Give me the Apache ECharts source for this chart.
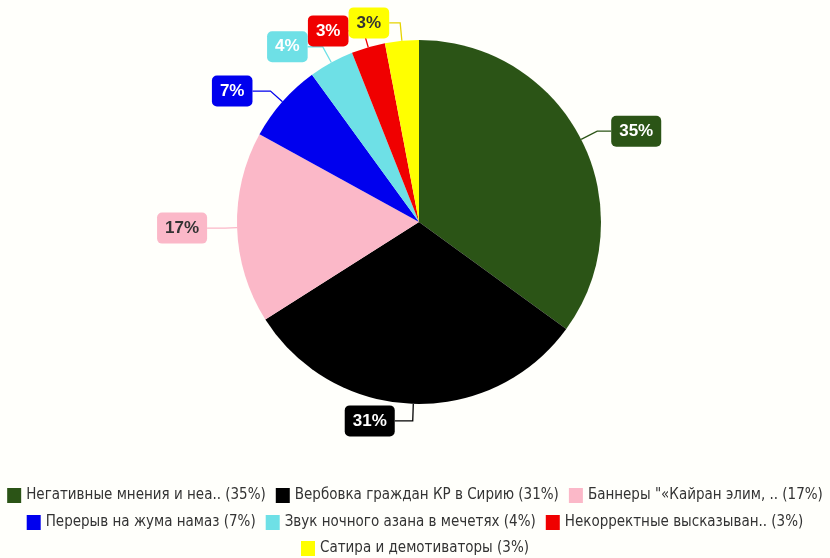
<!DOCTYPE html>
<html><head><meta charset="utf-8">
<script src="https://cdn.jsdelivr.net/npm/echarts@6/dist/echarts.min.js"></script>
<style>html,body{margin:0;padding:0;background:#fffffb;}#c{width:830px;height:558px;}</style>
</head><body><div id="c"></div>
<script>
const categories = ['Негативные мнения и неа..', 'Вербовка граждан КР в Сирию', 'Баннеры "«Кайран элим, ..', 'Перерыв на жума намаз', 'Звук ночного азана в мечетях', 'Некорректные высказыван..', 'Сатира и демотиваторы'];
const values = [35, 31, 17, 7, 4, 3, 3];
const colors = ['#2b5416', '#000000', '#fbb8c8', '#0000ee', '#6ee0e6', '#f00000', '#ffff00'];
const labelText = ['#ffffff', '#ffffff', '#333333', '#ffffff', '#ffffff', '#ffffff', '#333333'];
const lineLen = [18, 17, 12, 16, 18, 17, 18];
const lineLen2 = [14, 18, 18, 18, 15, 15, 11];
const legendRows = [[0, 1, 2], [3, 4, 5], [6]];
const legendTops = [488, 515, 541];
const font = '"Liberation Sans Narrow","DejaVu Sans Condensed","Arial Narrow",sans-serif';
const labelFont = '"Liberation Sans",Arial,sans-serif';
const total = values.reduce((a, b) => a + b, 0);
const data = categories.map((n, i) => ({
  name: n, value: values[i],
  itemStyle: { color: colors[i] },
  label: { backgroundColor: colors[i], color: labelText[i] },
  labelLine: { length: lineLen[i], length2: lineLen2[i], lineStyle: { color: colors[i] === '#ffff00' ? '#e6d400' : colors[i] } }
}));
const chart = echarts.init(document.getElementById('c'));
chart.setOption({
  backgroundColor: '#fffffb',
  animation: false,
  legend: legendRows.map((row, r) => ({
    top: legendTops[r], left: 'center', padding: 0,
    itemWidth: 14, itemHeight: 15, itemGap: 10,
    icon: 'rect',
    textStyle: { fontFamily: font, fontSize: 15, color: '#333' },
    formatter: name => {
      const i = categories.indexOf(name);
      return name + ' (' + Math.round(values[i] / total * 100) + '%)';
    },
    data: row.map(i => categories[i])
  })),
  series: [{
    type: 'pie',
    center: [419, 222],
    radius: [0, 182],
    startAngle: 90,
    clockwise: true,
    avoidLabelOverlap: false,
    labelLayout: { hideOverlap: false, moveOverlap: null },
    data: data,
    label: {
      position: 'outside',
      formatter: p => Math.round(p.percent) + '%',
      fontFamily: labelFont, fontSize: 17, fontWeight: 'bold',
      padding: [7, 8],
      borderRadius: 5,
      distanceToLabelLine: 0
    },
    labelLine: { show: true, lineStyle: { width: 1.3 } },
    emphasis: { disabled: true }
  }]
});
</script></body></html>
